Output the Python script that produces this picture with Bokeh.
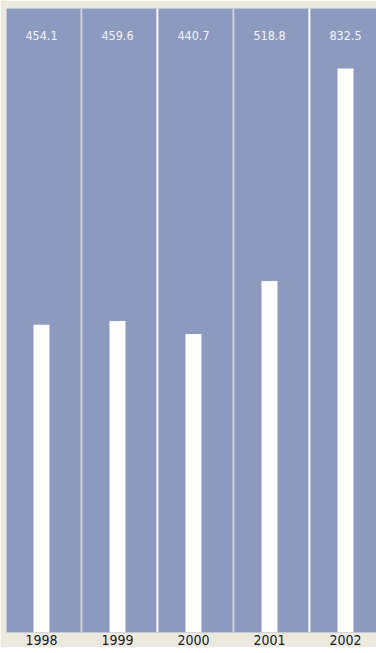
from bokeh.plotting import figure
from bokeh.models import ColumnDataSource, FixedTicker, Range1d
from bokeh.core.properties import value
from bokeh.embed import file_html
from bokeh.resources import INLINE

years = ["1998", "1999", "2000", "2001", "2002"]
values = [454.1, 459.6, 440.7, 518.8, 832.5]
value_labels = ["454.1", "459.6", "440.7", "518.8", "832.5"]

FONT = "DejaVu Sans Condensed"
BG = "#ECEADF"
PANEL = "#8C9ABF"

xs = list(range(len(years)))
y_max = 921.0

p = figure(frame_width=370, frame_height=624, output_backend="svg", toolbar_location=None,
           x_range=Range1d(-0.4605, 4.408), y_range=Range1d(0, y_max),
           min_border_left=6, min_border_right=0, min_border_top=8, min_border_bottom=0)
p.background_fill_color = PANEL
p.border_fill_color = BG
p.outline_line_color = None
p.grid.visible = False
p.yaxis.visible = False

src = ColumnDataSource(dict(x=xs, top=values, lab=value_labels,
                            ly=[y_max * 0.957] * len(xs)))

# column separators
seps = [x + 0.525 for x in xs[:-1]]
sep_cols = ["#C9CFE2", "#FFFFFF", "#C9CFE2", "#FFFFFF"]
p.segment(x0=seps, x1=seps, y0=[0] * len(seps), y1=[y_max] * len(seps),
          line_color=sep_cols, line_width=2)

p.vbar(x="x", top="top", bottom=0, width=16 / 76, source=src,
       fill_color="white", line_color=None)

p.text(x="x", y="ly", text="lab", source=src, text_align="center",
       text_baseline="middle", text_color="#F4F5FA", text_font_size="12.5px",
       text_font=value(FONT))

ax = p.xaxis[0]
ax.ticker = FixedTicker(ticks=xs)
ax.major_label_overrides = {i: y for i, y in enumerate(years)}
ax.axis_line_color = None
ax.major_tick_line_color = None
ax.minor_tick_line_color = None
ax.major_tick_out = 0
ax.major_tick_in = 0
ax.major_label_standoff = 2
ax.major_label_text_font = FONT
ax.major_label_text_font_size = "14px"
ax.major_label_text_color = "#1A1A1A"

open("out.html", "w").write(file_html(p, INLINE))
